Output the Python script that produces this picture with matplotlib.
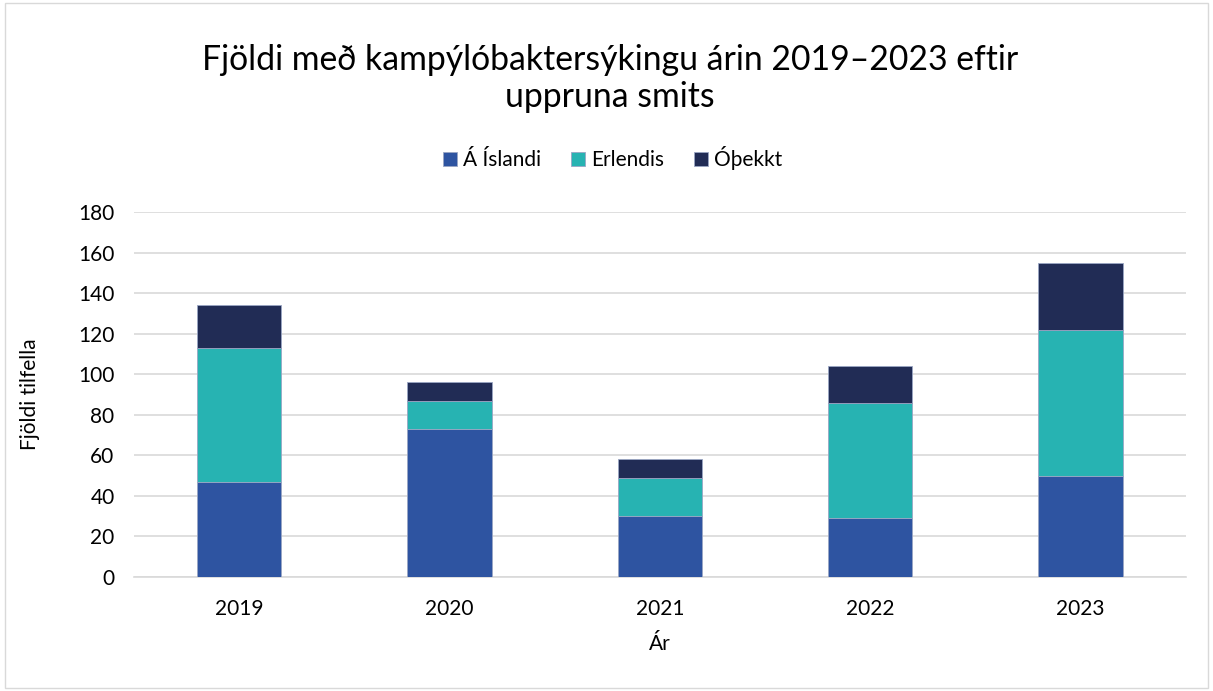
import matplotlib
matplotlib.use("Agg")
import matplotlib.pyplot as plt
from matplotlib.patches import Rectangle
import numpy as np

years = ["2019", "2020", "2021", "2022", "2023"]
a_islandi = [47, 73, 30, 29, 50]
erlendis = [66, 14, 19, 57, 72]
othekkt = [21, 9, 9, 18, 33]
series_names = ["Á Íslandi", "Erlendis", "Óþekkt"]
colors = ["#2E54A1", "#27B3B2", "#212C55"]

plt.rcParams['font.family'] = ['Lato', 'DejaVu Sans']

fig = plt.figure(figsize=(12.13, 6.91), dpi=100)
ax = fig.add_axes([0.1105, 0.165, 0.867, 0.528])

x = np.arange(len(years))
bottom = np.zeros(len(years))
for vals, name, c in zip([a_islandi, erlendis, othekkt], series_names, colors):
    ax.bar(x, vals, bottom=bottom, width=0.4, color=c, label=name,
           edgecolor="#9aa6c4", linewidth=0.6, zorder=3)
    bottom += np.array(vals)

ax.set_ylim(0, 180)
ax.set_yticks(range(0, 181, 20))
ax.set_xlim(-0.5, len(years) - 0.5)
ax.set_xticks(x)
ax.set_xticklabels(years)
ax.grid(axis='y', color="#d9d9d9", linewidth=1.2, zorder=0)
for s in ["top", "right", "left"]:
    ax.spines[s].set_visible(False)
ax.spines["bottom"].set_color("#d9d9d9")
ax.spines["bottom"].set_linewidth(1.2)
ax.tick_params(axis='both', length=0, labelsize=15, colors="#000000")
ax.tick_params(axis='y', pad=14)
ax.tick_params(axis='x', pad=16)
ax.set_xlabel("Ár", fontsize=15)
ax.set_ylabel("Fjöldi tilfella", fontsize=15)
ax.yaxis.set_label_coords(-0.089, 0.5)
ax.xaxis.set_label_coords(0.5, -0.155)

fig.text(0.503, 0.886, "Fjöldi með kampýlóbaktersýkingu árin 2019–2023 eftir\nuppruna smits",
         ha="center", va="center", fontsize=24.3, linespacing=1.2)

leg = fig.legend(loc="center", bbox_to_anchor=(0.505, 0.771), ncol=3, frameon=False,
                 fontsize=15, handlelength=0.7, handleheight=0.7, handletextpad=0.3,
                 columnspacing=1.4)

fig.patches.append(Rectangle((0.004, 0.004), 0.992, 0.992, transform=fig.transFigure,
                             fill=False, edgecolor="#d9d9d9", linewidth=1))

fig.savefig("out.png", dpi=100)
